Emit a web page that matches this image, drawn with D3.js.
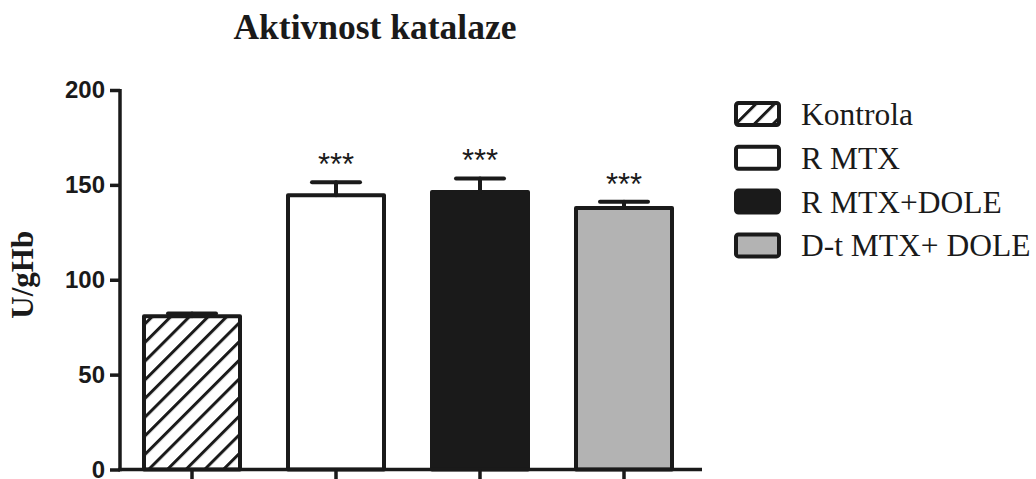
<!DOCTYPE html>
<html>
<head>
<meta charset="utf-8">
<script src="https://cdn.jsdelivr.net/npm/d3@7"></script>
<style>
  html, body { margin: 0; padding: 0; background: #fff; }
  svg { display: block; }
</style>
</head>
<body>
<svg id="chart" width="1036" height="479"></svg>
<script>
// Catalase activity per group (mean and SEM, U/gHb)
const groups = ["Kontrola", "R MTX", "R MTX+DOLE", "D-t MTX+ DOLE"];
const means = [80.7, 144.5, 146.2, 137.8];
const sems = [1.5, 6.9, 7.2, 3.3];
const significance = ["", "***", "***", "***"];
const yTicks = [0, 50, 100, 150, 200];

const ink = "#1a1a1a";
const fills = ["url(#hatch)", "#ffffff", "#1a1a1a", "#b3b3b3"];

const svg = d3.select("#chart");

// Diagonal hatch used by the control group
const defs = svg.append("defs");
const pat = defs.append("pattern")
  .attr("id", "hatch")
  .attr("patternUnits", "userSpaceOnUse")
  .attr("width", 13.2)
  .attr("height", 10)
  .attr("patternTransform", "rotate(45)");
pat.append("rect").attr("width", 13.2).attr("height", 10).attr("fill", "#fff");
pat.append("line")
  .attr("x1", 1.5).attr("y1", 0).attr("x2", 1.5).attr("y2", 10)
  .attr("stroke", ink).attr("stroke-width", 3);

const x = d3.scaleBand()
  .domain(groups)
  .range([120, 696])
  .paddingInner(1 / 3)
  .paddingOuter(1 / 6);

const y = d3.scaleLinear()
  .domain([0, 200])
  .range([469.5, 90]);

// Title
svg.append("text")
  .attr("x", 375).attr("y", 39)
  .attr("text-anchor", "middle")
  .attr("font-family", "Liberation Serif, Times New Roman, serif")
  .attr("font-weight", "bold")
  .attr("font-size", 35.5)
  .attr("fill", ink)
  .text("Aktivnost katalaze");

// Y axis title
svg.append("text")
  .attr("transform", "translate(33," + (y(100) - 5) + ") rotate(-90)")
  .attr("text-anchor", "middle")
  .attr("font-family", "Liberation Serif, Times New Roman, serif")
  .attr("font-weight", "bold")
  .attr("font-size", 31)
  .attr("fill", ink)
  .text("U/gHb");

// Bars
const bars = svg.append("g");
groups.forEach((g, i) => {
  bars.append("rect")
    .attr("x", x(g))
    .attr("y", y(means[i]))
    .attr("width", x.bandwidth())
    .attr("height", y(0) - y(means[i]))
    .attr("fill", fills[i])
    .attr("stroke", ink)
    .attr("stroke-width", 4)
    .attr("stroke-linejoin", "round");
});

// Error bars (upper SEM)
const err = svg.append("g")
  .attr("stroke", ink)
  .attr("stroke-width", 4)
  .attr("stroke-linecap", "round");
groups.forEach((g, i) => {
  const cx = x(g) + x.bandwidth() / 2;
  const top = y(means[i] + sems[i]);
  err.append("line")
    .attr("x1", cx).attr("x2", cx)
    .attr("y1", y(means[i])).attr("y2", top);
  err.append("line")
    .attr("x1", cx - 24).attr("x2", cx + 24)
    .attr("y1", top).attr("y2", top);
});

// Significance markers
groups.forEach((g, i) => {
  if (!significance[i]) return;
  svg.append("text")
    .attr("x", x(g) + x.bandwidth() / 2)
    .attr("y", y(means[i] + sems[i]) - 7)
    .attr("text-anchor", "middle")
    .attr("font-family", "Liberation Sans, Arial, sans-serif")
    .attr("font-size", 31)
    .attr("fill", ink)
    .text(significance[i]);
});

// Y axis
const yAxis = svg.append("g")
  .attr("transform", "translate(120,0)")
  .call(d3.axisLeft(y).tickValues(yTicks).tickSize(10).tickSizeOuter(0).tickPadding(5));
yAxis.select(".domain").attr("stroke", ink).attr("stroke-width", 3.5)
  .attr("d", "M0," + (y(0) + 1.75) + "V" + (y(200) - 1));
yAxis.selectAll(".tick line").attr("stroke", ink).attr("stroke-width", 3.5);
yAxis.selectAll(".tick text")
  .attr("font-family", "Liberation Sans, Arial, sans-serif")
  .attr("font-weight", "bold")
  .attr("font-size", 24)
  .attr("fill", ink);

// X axis
const xAxis = svg.append("g")
  .attr("transform", "translate(0," + y(0) + ")")
  .call(d3.axisBottom(x).tickSize(12).tickSizeOuter(0).tickFormat(""));
xAxis.select(".domain").attr("stroke", ink).attr("stroke-width", 3.5)
  .attr("d", "M118.25,0H702");
xAxis.selectAll(".tick line").attr("stroke", ink).attr("stroke-width", 3.5);

// Legend
const legend = svg.append("g").attr("transform", "translate(736,103)");
groups.forEach((g, i) => {
  const row = legend.append("g").attr("transform", "translate(0," + (i * 43.8) + ")");
  row.append("rect")
    .attr("x", 0).attr("y", 0)
    .attr("width", 43).attr("height", 22)
    .attr("rx", 2.5)
    .attr("fill", fills[i])
    .attr("stroke", ink)
    .attr("stroke-width", 4);
  row.append("text")
    .attr("x", 65).attr("y", 22)
    .attr("font-family", "Liberation Serif, Times New Roman, serif")
    .attr("font-size", 31.5)
    .attr("fill", ink)
    .text(g);
});
</script>
</body>
</html>
